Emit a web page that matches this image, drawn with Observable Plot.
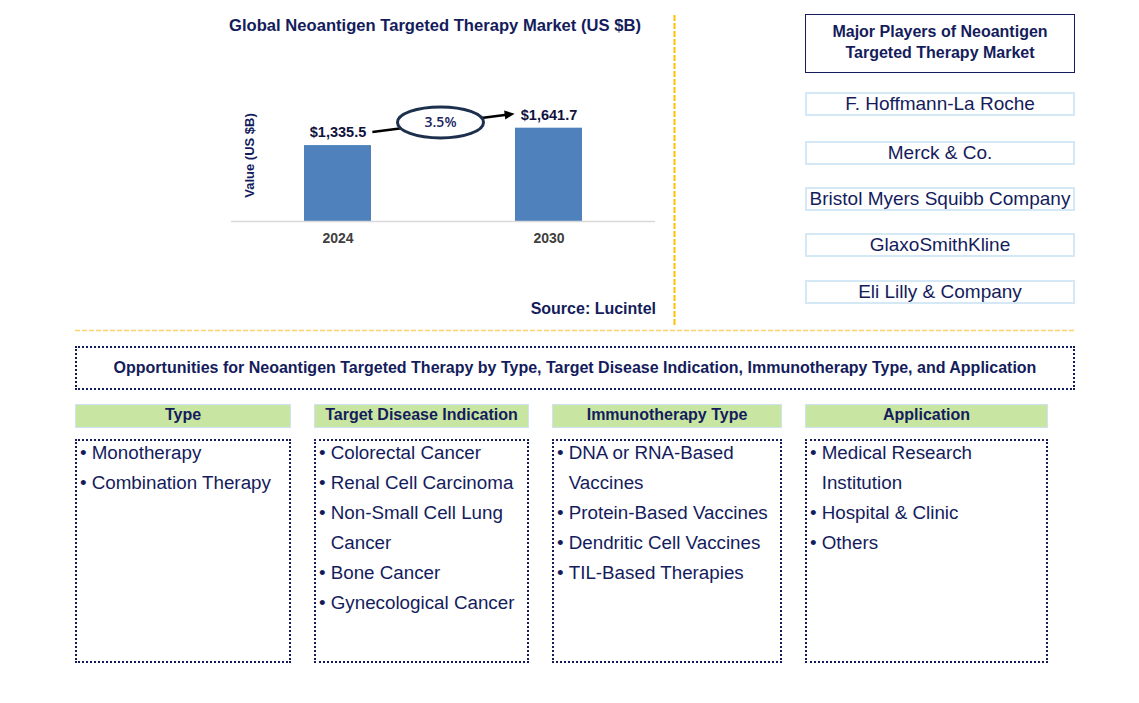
<!DOCTYPE html>
<html><head><meta charset="utf-8">
<script src="https://cdn.jsdelivr.net/npm/d3@7"></script>
<script src="https://cdn.jsdelivr.net/npm/@observablehq/plot@0.6"></script>
<style>
body{margin:0;background:#fff;font-family:"Liberation Sans",Arial,sans-serif;color:#141c5c}
#root{position:relative;width:1139px;height:703px;overflow:hidden;background:#fff}
.abs{position:absolute;box-sizing:border-box}
.title{font-weight:bold;font-size:16px;text-align:center;white-space:nowrap}
.players-head{border:1.5px solid #141c5c;font-weight:bold;font-size:16px;line-height:21px;text-align:center;padding-top:6px}
.player{border:2px solid #d4e8f5;font-size:19px;line-height:19px;text-align:center;white-space:nowrap}
.opp{border:2px dotted #141c5c;font-weight:bold;font-size:16px;display:flex;align-items:center;justify-content:center;white-space:nowrap}
.seg-head{background:#c8e6a2;border:1.5px solid #cfe4f2;font-weight:bold;font-size:16px;text-align:center;line-height:20px}
.seg-box{border:2px dotted #141c5c}
.seg-list{font-size:18.8px;line-height:30px}
.item{display:flex;padding-left:4px}
.item .b{flex:0 0 11.7px}
.item .t{white-space:pre-line}
</style></head><body><div id="root"></div>
<script>
// ---- data ----
const years = ["2024", "2030"];
const values = [1335.5, 1641.7];
const valueLabels = ["$1,335.5", "$1,641.7"];
const cagrLabel = "3.5%";
const chartTitle = "Global Neoantigen Targeted Therapy Market (US $B)";
const yAxisLabel = "Value (US $B)";
const sourceLabel = "Source: Lucintel";
const playersTitle = ["Major Players of Neoantigen", "Targeted Therapy Market"];
const players = ["F. Hoffmann-La Roche", "Merck & Co.", "Bristol Myers Squibb Company", "GlaxoSmithKline", "Eli Lilly & Company"];
const opportunitiesTitle = "Opportunities for Neoantigen Targeted Therapy by Type, Target Disease Indication, Immunotherapy Type, and Application";
const segmentNames = ["Type", "Target Disease Indication", "Immunotherapy Type", "Application"];
const typeItems = ["Monotherapy", "Combination Therapy"];
const diseaseItems = ["Colorectal Cancer", "Renal Cell Carcinoma", "Non-Small Cell Lung\nCancer", "Bone Cancer", "Gynecological Cancer"];
const immunoItems = ["DNA or RNA-Based\nVaccines", "Protein-Based Vaccines", "Dendritic Cell Vaccines", "TIL-Based Therapies"];
const applicationItems = ["Medical Research\nInstitution", "Hospital & Clinic", "Others"];
const segmentItems = [typeItems, diseaseItems, immunoItems, applicationItems];

const navy = "#141c5c";
const root = document.getElementById("root");
function box(cls, left, top, width, height, html) {
  const d = document.createElement("div");
  d.className = "abs " + cls;
  Object.assign(d.style, {left: left + "px", top: top + "px", width: width + "px"});
  if (height != null) d.style.height = height + "px";
  if (html != null) d.innerHTML = html;
  root.appendChild(d);
  return d;
}
const esc = s => s.replace(/&/g, "&amp;").replace(/</g, "&lt;");

// ---- bar chart ----
const data = years.map((y, i) => ({year: y, value: values[i], label: valueLabels[i]}));
const plot = Plot.plot({
  width: 700, height: 330,
  marginLeft: 231, marginRight: 45, marginTop: 113, marginBottom: 109,
  style: {fontFamily: "'Liberation Sans', Arial, sans-serif", background: "transparent", overflow: "visible"},
  x: {domain: years, paddingInner: 0.683, paddingOuter: 0.345, label: null},
  y: {domain: [0, 1900], axis: null},
  marks: [
    Plot.barY(data, {x: "year", y: "value", fill: "#4f81bd"}),
    Plot.ruleY([0], {stroke: "#d9d9d9", strokeWidth: 1.5}),
    Plot.axisX({tickSize: 0, tickPadding: 12, fontSize: 14, fontWeight: "bold", color: "#404040", label: null}),
    Plot.text(data, {x: "year", y: "value", text: "label", dy: -13, fontSize: 14.5, fontWeight: "bold", fill: "#10123e"}),
    Plot.text([yAxisLabel], {frameAnchor: "left", textAnchor: "middle", dx: 18, dy: -12, rotate: -90, text: d => d, fontSize: 13, fontWeight: "bold", fill: navy})
  ]
});
plot.style.position = "absolute";
plot.style.left = "0px";
plot.style.top = "0px";
root.appendChild(plot);

// CAGR arrow + ellipse positioned from the plot's own scales
const sx = plot.scale("x"), sy = plot.scale("y");
const xs = d3.scaleBand(sx.domain, sx.range).paddingInner(sx.paddingInner).paddingOuter(sx.paddingOuter).align(sx.align ?? 0.5);
const ys = d3.scaleLinear(sy.domain, sy.range);
const cx = y => xs(y) + xs.bandwidth() / 2;
const x0 = cx(years[0]) + 35, y0 = ys(values[0]) - 13;
const x1 = cx(years[1]) - 34, y1 = ys(values[1]) - 14;
const g = d3.select(plot).append("g");
g.append("line").attr("x1", x0).attr("y1", y0).attr("x2", x1 - 8).attr("y2", y1 + (y0 - y1) * 8 / (x1 - x0))
  .attr("stroke", "#000").attr("stroke-width", 2.5);
const len = Math.hypot(x1 - x0, y1 - y0), ux = (x1 - x0) / len, uy = (y1 - y0) / len;
const bx = x1 - 10 * ux, by = y1 - 10 * uy;
g.append("polygon").attr("points", [[x1, y1], [bx - 4.5 * uy, by + 4.5 * ux], [bx + 4.5 * uy, by - 4.5 * ux]].map(p => p.join(",")).join(" ")).attr("fill", "#000");
const ex = (x0 + x1) / 2 - 3, ey = (y0 + y1) / 2 - 0.5;
g.append("ellipse").attr("cx", ex).attr("cy", ey).attr("rx", 43).attr("ry", 15.5)
  .attr("fill", "#fff").attr("stroke", "#1c2f4c").attr("stroke-width", 3);
g.append("text").attr("x", ex).attr("y", ey).attr("dy", "0.35em").attr("text-anchor", "middle")
  .attr("font-family", "'Open Sans', Lato, sans-serif").attr("font-weight", 600).attr("font-size", 14).attr("fill", "#1a2560").text(cagrLabel);

// titles
box("title", 180, 16, 510, null, esc(chartTitle)).style.fontSize = "16.6px";
const src = box("title", 456, 300, 200, null, esc(sourceLabel));
src.style.textAlign = "right";

// divider lines
const deco = d3.select(root).append("svg").attr("class", "abs").attr("width", 1139).attr("height", 703)
  .style("left", "0px").style("top", "0px").style("pointer-events", "none");
deco.append("line").attr("x1", 674.5).attr("x2", 674.5).attr("y1", 15).attr("y2", 326)
  .attr("stroke", "#ffc000").attr("stroke-width", 2).attr("stroke-dasharray", "6,2");
deco.append("line").attr("x1", 75).attr("x2", 1075).attr("y1", 330.5).attr("y2", 330.5)
  .attr("stroke", "#fbd368").attr("stroke-width", 1.5).attr("stroke-dasharray", "5,2");

// players
box("players-head", 805, 14, 270, 59, playersTitle.map(esc).join("<br>"));
const playerTops = [92, 141, 187, 233, 280];
players.forEach((p, i) => box("player", 805, playerTops[i], 270, 24, esc(p)));

// opportunities
box("opp", 75, 346, 1000, 44, esc(opportunitiesTitle));
const segLefts = [75, 314, 552, 805];
const segWidths = [216, 215, 230, 243];
segmentNames.forEach((n, i) => {
  box("seg-head", segLefts[i], 404, segWidths[i], 24, esc(n));
  box("seg-box", segLefts[i], 439, segWidths[i], 224, null);
  box("seg-list", segLefts[i] + 1, 437.5, segWidths[i] - 2, null,
    segmentItems[i].map(t => `<div class="item"><span class="b">•</span><span class="t">${esc(t)}</span></div>`).join(""));
});
</script></body></html>
